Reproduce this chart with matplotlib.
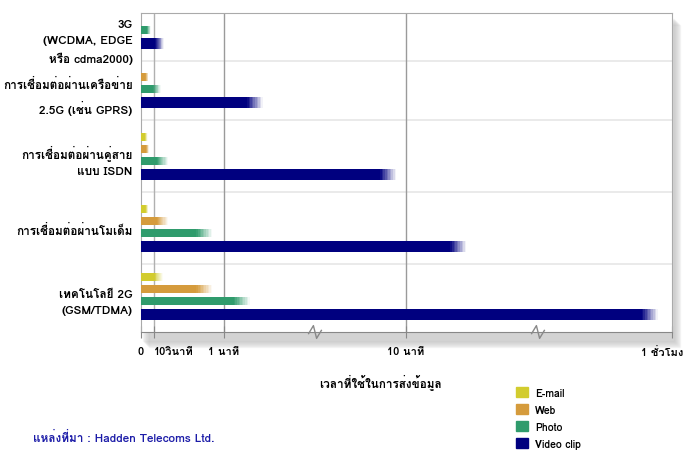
import numpy as np
import matplotlib
matplotlib.use("Agg")
from matplotlib import pyplot as plt
from matplotlib import font_manager
from matplotlib import transforms
from matplotlib.ft2font import FT2Font
from matplotlib.patches import Patch, Rectangle

# fonts that can draw Thai, Loma (Tahoma-like) first
thai_fams = []
for f in font_manager.fontManager.ttflist:
    try:
        if 0x0E01 in FT2Font(f.fname).get_charmap() and f.name not in thai_fams:
            thai_fams.append(f.name)
    except Exception:
        pass
if 'Loma' in thai_fams:
    thai_fams.remove('Loma')
    thai_fams.insert(0, 'Loma')
plt.rcParams['font.family'] = thai_fams + ['DejaVu Sans']

categories = ['3G\n(WCDMA, EDGE\nหรือ cdma2000)',
              'การเชื่อมต่อผ่านเครือข่าย\n2.5G (เช่น GPRS)',
              'การเชื่อมต่อผ่านคู่สาย\nแบบ ISDN',
              'การเชื่อมต่อผ่านโมเด็ม',
              'เทคโนโลยี 2G\n(GSM/TDMA)']
series = ['E-mail', 'Web', 'Photo', 'Video clip']
# seconds
email = [0.0, 0.0, 4, 4.5, 13]
web = [0.0, 4.6, 5, 16, 46]
photo = [6, 12, 16, 46, 113]
video = [14, 152, 547, 1190, 3350]
tick_vals = [0, 10, 60, 600, 3600]
tick_labels = ['0', '10วินาที', '1 นาที', '10 นาที', '1 ชั่วโมง']
xlabel = 'เวลาที่ใช้ในการส่งข้อมูล'
source = 'แหล่งที่มา : Hadden Telecoms Ltd.'

colors = ['#d2cc2e', '#d59b3c', '#2f9b6c', '#00007f']

# broken time axis: piecewise linear positions
knots_s = [0, 10, 60, 600, 3600]
knots_p = [0, 13, 83, 265, 531]
def fwd(x):
    return np.interp(x, knots_s, knots_p)
def inv(p):
    return np.interp(p, knots_p, knots_s)

# row layout (px from top of plot area)
row_edges = [0, 48, 107, 179, 251, 319]
bar_off = [55, 43, 31, 18]
bar_h = [8, 8, 8, 11]

fig = plt.figure(figsize=(6.88, 4.52), dpi=100)
ax = fig.add_axes([141/688, 1-333/452, 531/688, 319/452])

# soft shadow behind plot area
for i in range(7):
    fig.patches.append(Rectangle((141/688 + (2+i)/688, 1-(342+i)/452),
                                 531/688, 322/452, transform=fig.transFigure,
                                 color='#888888', alpha=0.06, zorder=-1))

ax.set_xscale('function', functions=(fwd, inv))
ax.set_xlim(0, 3600)
ax.set_ylim(319, 0)

data = [email, web, photo, video]
for k, vals in enumerate(data):
    for i, v in enumerate(vals):
        if v <= 0:
            continue
        y = row_edges[i+1] - bar_off[k]
        p = fwd(v)
        fade = min(16, 0.5*p)
        solid = p - fade/2
        ax.barh(y, inv(solid), height=bar_h[k], color=colors[k], zorder=3)
        n = 10
        for j in range(n):
            a = inv(solid + fade*j/n)
            b = inv(solid + fade*(j+1)/n)
            ax.barh(y, b - a, left=a, height=bar_h[k], color=colors[k],
                    alpha=1 - (j+0.5)/n, lw=0, zorder=3)

for e in row_edges[1:-1]:
    ax.axhline(e, color='#e6e6e6', lw=1.2, zorder=1)
for t in tick_vals[1:-1]:
    ax.axvline(t, color='#9a9a9a' if t > 10 else '#b0b0b0', lw=1, zorder=1)

centers = [(row_edges[i] + row_edges[i+1])/2 for i in range(len(categories))]
ax.set_yticks(centers)
ax.set_yticklabels(categories, fontsize=8.5, fontweight='bold', linespacing=1.7)
ax.tick_params(axis='y', length=0, pad=6)

ax.set_xticks(tick_vals)
ax.set_xticklabels(tick_labels, fontsize=8, fontweight='bold')
ax.tick_params(axis='x', direction='inout', length=8, color='#888888', pad=6)
lbls = ax.get_xticklabels()
lbls[1].set_ha('left')
lbls[1].set_x(7)
# keep the last label inside the figure
shift = transforms.ScaledTranslation(-10/100, 0, fig.dpi_scale_trans)
lbls[-1].set_transform(lbls[-1].get_transform() + shift)

for s in ax.spines.values():
    s.set_color('#aaaaaa')
ax.spines['bottom'].set_color('#888888')

# axis break marks
for fx in [(315-141)/531, (538-141)/531]:
    ax.plot([fx-0.012, fx-0.003, fx+0.003, fx+0.012], [-0.005, 0.02, -0.02, 0.005],
            transform=ax.transAxes, color='#888888', lw=1, clip_on=False, zorder=5)

fig.text(380/688, 1-382/452, xlabel, ha='center', va='center', fontsize=8.5, fontweight='bold')
fig.text(33/688, 1-437/452, source, ha='left', va='center', fontsize=8.5,
         fontweight='bold', color='#1c1ca8')

handles = [Patch(color=c) for c in colors]
fig.legend(handles, series, loc='upper left', bbox_to_anchor=(508/688, 1-380/452),
           frameon=False, handlelength=1.1, handleheight=1.1,
           labelspacing=0.62, handletextpad=0.7, borderpad=0.3,
           prop={'weight': 'bold', 'size': 7.5})

fig.savefig('out.png', dpi=100)
